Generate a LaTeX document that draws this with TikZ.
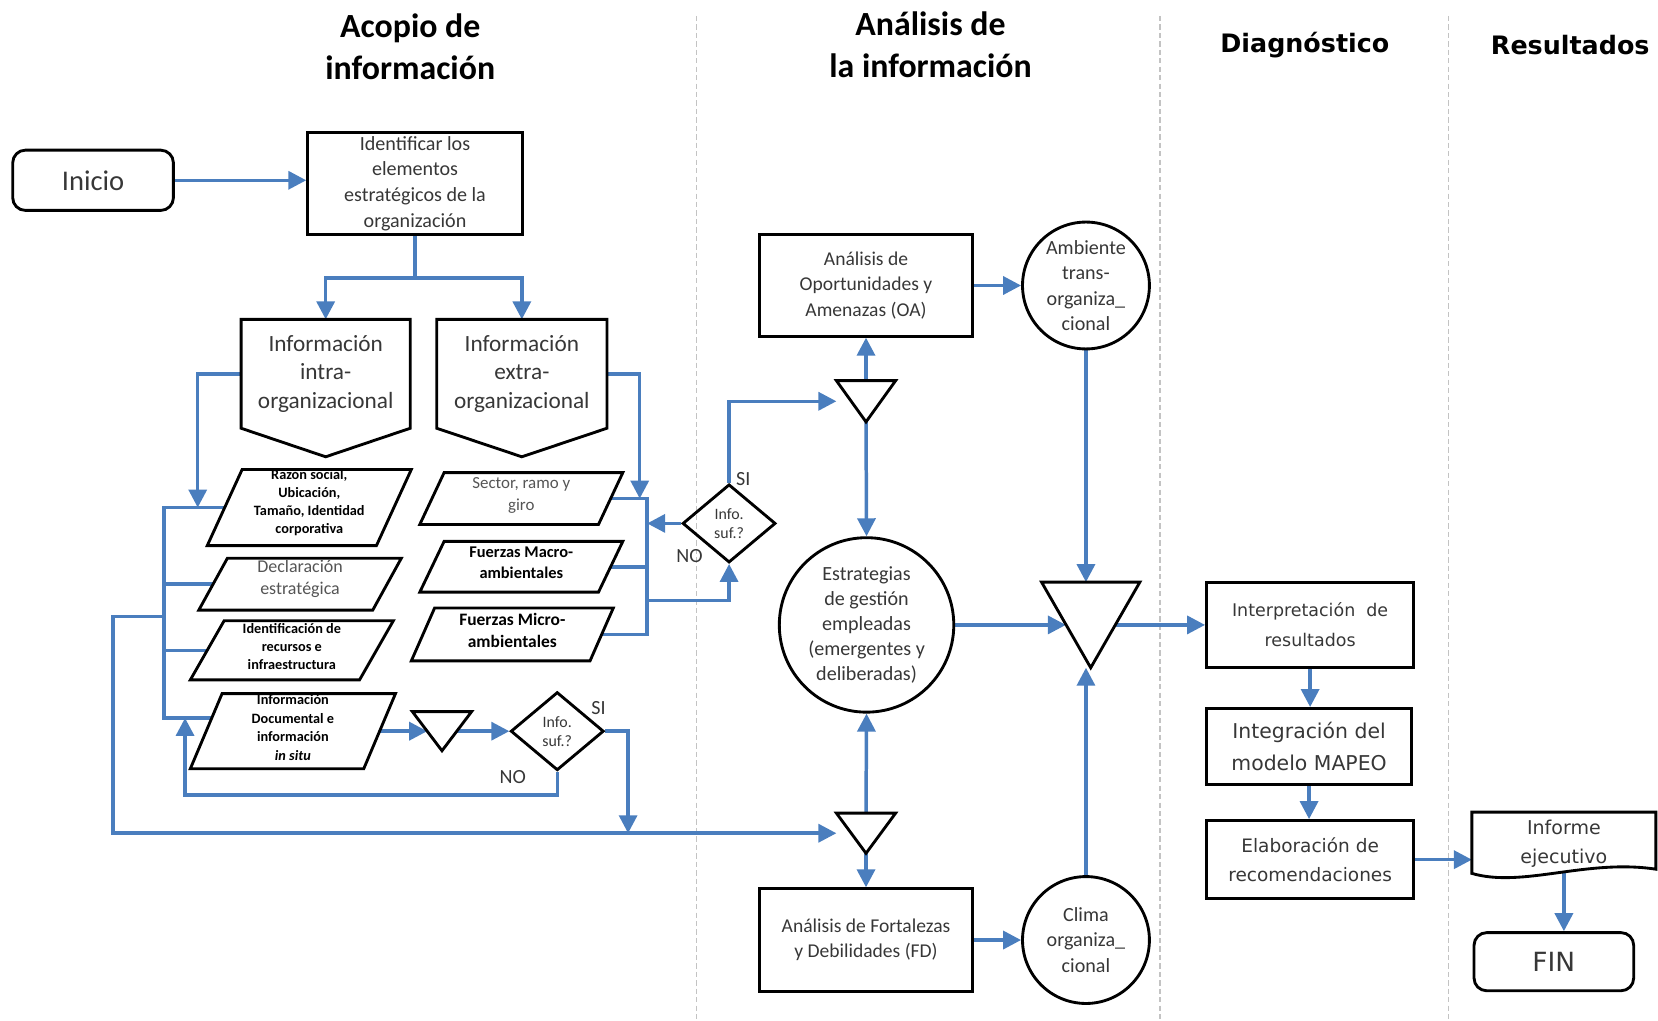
\documentclass[tikz,border=0pt]{standalone}
\usepackage{fontspec}
\setmainfont{Carlito}
\newfontfamily\vfont{DejaVu Sans}
\usetikzlibrary{arrows.meta,shapes.geometric,calc}
\pgfdeclarelayer{bg}
\pgfsetlayers{bg,main}
\definecolor{flowblue}{RGB}{74,126,190}
\definecolor{txtgray}{RGB}{55,55,55}
\definecolor{softgray}{RGB}{85,85,85}
\definecolor{sepgray}{RGB}{195,195,195}

\newcommand{\fs}[2]{\fontsize{#1}{#2}\selectfont}
% parallelogram outline around a helper rectangle
\newcommand{\paraline}[2]{\draw[shapeline] ([xshift=#2]#1.north west) -- ([xshift=#2]#1.north east) -- ([xshift=-#2]#1.south east) -- ([xshift=-#2]#1.south west) -- cycle;}
% downward triangle (merge symbol) inside a helper rectangle
\newcommand{\tri}[1]{\draw[shapeline, fill=white] (#1.north west) -- (#1.north east) -- (#1.south) -- cycle;}

\begin{document}
\begin{tikzpicture}[x=1pt,y=-1pt,
  hold/.style={inner sep=0pt, outer sep=0pt, align=center},
  shapeline/.style={draw=black, line width=2.7pt, line join=miter},
  rbox/.style={draw=black, line width=2.7pt, inner sep=0pt, align=center, text=txtgray},
  circ/.style={circle, draw=black, line width=2.7pt, inner sep=-20pt, align=center, text=txtgray, font=\fs{19}{24}},
  dec/.style={diamond, draw=black, line width=2.7pt, inner sep=0pt, align=center, text=txtgray, font=\fs{15}{18}, minimum width=88pt, minimum height=74pt},
  flow/.style={draw=flowblue, line width=3.3pt, -{Triangle[length=17pt,width=17pt]}},
  link/.style={draw=flowblue, line width=3.3pt},
  sep/.style={draw=sepgray, line width=1pt, dash pattern=on 5pt off 3pt},
  lbl/.style={text=txtgray, font=\fs{19}{22}, inner sep=0pt},
  ttl/.style={align=center, font=\bfseries\fs{32}{40}},
  ttlv/.style={font=\vfont\bfseries\fs{24}{28}}
]
\useasboundingbox (0,0) rectangle (1568,965);

% ---------- lane titles ----------
\node[ttl] (tA) at (388,44) {Acopio de\\información};
\node[ttl] (tB) at (880,42) {Análisis de\\la información};
\node[ttlv] (tC) at (1234,43) {Diagnóstico};
\node[ttlv] (tD) at (1485,43) {Resultados};

% ---------- information gathering ----------
\node[rbox, rounded corners=12pt, minimum width=152pt, minimum height=57pt, font=\fs{27}{30}] (inicio) at (88,170.5) {Inicio};
\node[rbox, minimum width=203pt, minimum height=97pt, font=\fs{19}{24.3}] (ident) at (392.5,173.5) {Identificar los\\elementos\\estratégicos de la\\organización};

\node[hold, minimum width=160pt, minimum height=103pt, text=txtgray, font=\fs{22}{27}] (intra) at (308,353.5) {Información\\intra-\\organizacional};
\draw[shapeline] (intra.north west) -- (intra.north east) -- (intra.south east) -- ([yshift=-27pt]intra.south) -- (intra.south west) -- cycle;
\node[hold, minimum width=161pt, minimum height=103pt, text=txtgray, font=\fs{22}{27}] (extra) at (493.5,353.5) {Información\\extra-\\organizacional};
\draw[shapeline] (extra.north west) -- (extra.north east) -- (extra.south east) -- ([yshift=-27pt]extra.south) -- (extra.south west) -- cycle;

% internal sources
\node[hold, minimum width=160pt, minimum height=72pt] (p1) at (292.5,480) {};
\paraline{p1}{16.5pt}
\node[hold, font=\bfseries\fs{13.5}{17}] (p1t) at ([yshift=4.5pt]p1.center) {Razón social,\\Ubicación,\\Tamaño, Identidad\\corporativa};
\node[hold, minimum width=164.5pt, minimum height=49pt] (p2) at (283.75,552.5) {};
\paraline{p2}{13.5pt}
\node[hold, text=softgray, font=\fs{17}{21}] (p2t) at ([yshift=5pt]p2.center) {Declaración\\estratégica};
\node[hold, minimum width=160pt, minimum height=56pt] (p3) at (276,615) {};
\paraline{p3}{16pt}
\node[hold, font=\bfseries\fs{13.5}{17}] (p3t) at ([yshift=4pt]p3.center) {Identificación de\\recursos e\\infraestructura};
\node[hold, minimum width=164pt, minimum height=71pt] (p4) at (277,691.5) {};
\paraline{p4}{15pt}
\node[hold, font=\bfseries\fs{13.5}{17.7}] (p4t) at ([yshift=3.5pt]p4.center) {Información\\Documental e\\información\\\textit{in situ}};

% external sources
\node[hold, minimum width=169pt, minimum height=49pt] (e1) at (493,471.5) {};
\paraline{e1}{11.5pt}
\node[hold, text=softgray, font=\fs{16}{21}] (e1t) at ([yshift=3pt]e1.center) {Sector, ramo y\\giro};
\node[hold, minimum width=169pt, minimum height=48pt] (e2) at (493,536) {};
\paraline{e2}{11.5pt}
\node[hold, font=\bfseries\fs{15.5}{20}] (e2t) at ([yshift=4pt]e2.center) {Fuerzas Macro-\\ambientales};
\node[hold, minimum width=169pt, minimum height=50pt] (e3) at (484.5,600) {};
\paraline{e3}{11pt}
\node[hold, font=\bfseries\fs{16.5}{21}] (e3t) at ([yshift=4pt]e3.center) {Fuerzas Micro-\\ambientales};

% merge and decision in the lower branch
\node[hold, minimum width=56pt, minimum height=37pt] (t1) at (418,691.5) {};
\node[dec] (d1) at (527,691.5) {Info.\\suf.?};
\node[lbl] (si1) at (566,670) {SI};
\node[lbl] (no1) at (485,735) {NO};

% decision of the external branch
\node[dec] (d2) at (689.5,495) {Info.\\suf.?};
\node[lbl] (si2) at (703,453) {SI};
\node[lbl] (no2) at (652,526) {NO};

% ---------- analysis ----------
\node[hold, minimum width=56pt, minimum height=39pt] (t2) at (819,379.5) {};
\node[rbox, minimum width=202pt, minimum height=96pt, font=\fs{18.5}{24.5}] (oa) at (819,270) {Análisis de\\Oportunidades y\\Amenazas (OA)};
\node[circ, minimum size=120pt] (amb) at (1027,270) {Ambiente\\trans-\\organiza\_\\cional};
\node[circ, minimum size=165pt, font=\fs{19}{23.75}] (est) at (819.5,591) {Estrategias\\de gestión\\empleadas\\(emergentes y\\deliberadas)};
\node[hold, minimum width=93pt, minimum height=81pt] (t3) at (1031.5,591) {};
\node[hold, minimum width=56pt, minimum height=38pt] (t4) at (819,788) {};
\node[rbox, minimum width=202pt, minimum height=97pt, font=\fs{18.5}{24}] (fd) at (819,889) {Análisis de Fortalezas\\y Debilidades (FD)};
\node[circ, minimum size=120pt] (clima) at (1027,889) {Clima\\organiza\_\\cional};

% ---------- diagnosis ----------
\node[rbox, minimum width=196pt, minimum height=81pt, font=\vfont\fs{16.5}{28}] (interp) at (1239,591) {Interpretación\ \ de\\resultados};
\node[rbox, minimum width=194pt, minimum height=72pt, font=\vfont\fs{19.3}{31}] (integ) at (1238,706) {Integración del\\modelo MAPEO};
\node[rbox, minimum width=196pt, minimum height=74pt, font=\vfont\fs{17.5}{27}] (elab) at (1239,813) {Elaboración de\\recomendaciones};

% ---------- results ----------
\node[hold, minimum width=174pt, minimum height=60pt, text=txtgray, font=\vfont\fs{18}{27}] (inf) at (1479,798) {Informe\\ejecutivo};
\draw[shapeline] (inf.north west) -- (inf.north east) -- ([yshift=6pt]inf.south east) .. controls (1500,812) and (1440,840) .. ([yshift=2pt]inf.south west) -- cycle;
\node[rbox, rounded corners=12pt, minimum width=151pt, minimum height=55pt, font=\vfont\fs{25}{28}] (fin) at (1469.5,909.5) {FIN};

% merge symbols
\tri{t1}
\tri{t2}
\tri{t3}
\tri{t4}

% ---------- connectors ----------
\coordinate (split) at (ident.south |- 0,263);
\coordinate (lin) at (187,480);
\coordinate (brL) at (155,0);
\coordinate (p4b) at ($(p4.west)+(5,-12.5)$);
\coordinate (loopA) at (155,583);
\coordinate (loopB) at (107,583);
\coordinate (siDrop) at (594,0);
\coordinate (noC) at (175,752);
\coordinate (ein) at (605,471.5);
\coordinate (rbx) at (612,0);
\coordinate (rbMid) at (612,568);

\begin{pgfonlayer}{bg}
  % lane separators
  \draw[sep] (659,15) -- (659,965);
  \draw[sep] (1097,15) -- (1097,965);
  \draw[sep] (1370,15) -- (1370,965);

  \draw[flow] (inicio.east) -- (inicio.east -| ident.west);
  \draw[link] (ident.south) -- (split);
  \draw[flow] (split) -| (intra.north);
  \draw[flow] (split) -| (extra.north);

  % internal branch
  \draw[flow] (intra.west) -| (lin);
  \draw[link] (p1.west) -- (p1.west -| brL) |- (p4b);
  \draw[link] (p2.west) -- (p2.west -| brL);
  \draw[link] (p3.west) -- (p3.west -| brL);
  \draw[flow] (loopA) -- (loopB) |- (t4.west);
  \draw[flow] (p4.east) -- ($(t1.west)+(14,0)$);
  \draw[flow] (t1.center) -- (d1.west);
  \draw[flow] (d1.east) -| (siDrop |- t4.west);
  \draw[flow] (d1.south) |- (noC) -- (noC |- p4b);

  % external branch
  \draw[flow] (extra.east) -| (ein);
  \draw[link] (e1.east) -- (e1.east -| rbx) |- (e3.east);
  \draw[link] (e2.east) -- (e2.east -| rbx);
  \draw[flow] (rbMid) -| (d2.south);
  \draw[flow] (d2.west) -- (d2.west -| rbx);
  \draw[flow] (d2.north) |- (t2.west);

  % analysis
  \draw[flow] (t2.north) -- (oa.south);
  \draw[flow] (t2.south) -- (est.north);
  \draw[flow] (oa.east) -- (amb.west);
  \draw[flow] (amb.south) -- (amb.south |- t3.north);
  \draw[flow] (est.east) -- ($(t3.west)+(23,0)$);
  \draw[flow] (t3.center) -- (interp.west);
  \draw[flow] (clima.north) -- (clima.north |- t3.south);
  \draw[flow] (t4.north) -- (est.south);
  \draw[flow] (t4.south) -- (fd.north);
  \draw[flow] (fd.east) -- (clima.west);

  % diagnosis and results
  \draw[flow] (interp.south) -- (interp.south |- integ.north);
  \draw[flow] (integ.south) -- (integ.south |- elab.north);
  \draw[flow] (elab.east) -- (elab.east -| inf.west);
  \draw[flow] ([yshift=3pt]inf.south) -- (inf.south |- fin.north);
\end{pgfonlayer}
\end{tikzpicture}
\end{document}
